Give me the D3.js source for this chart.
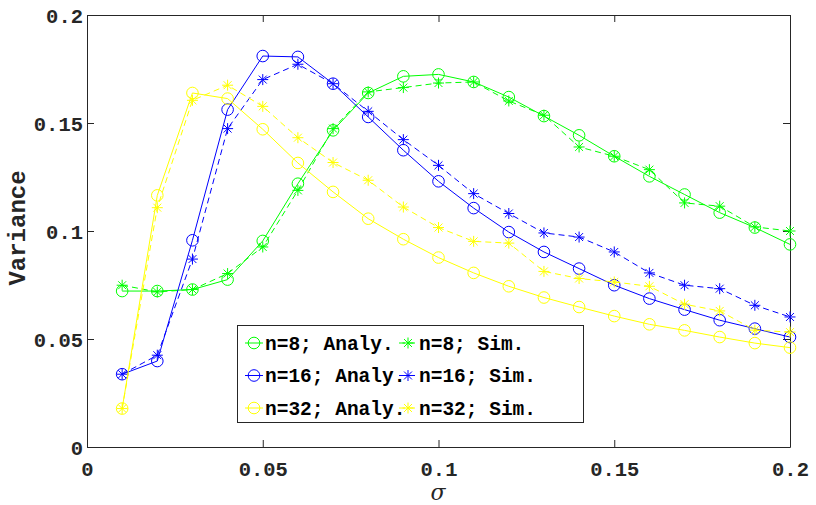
<!DOCTYPE html>
<html><head><meta charset="utf-8">
<script src="https://cdn.jsdelivr.net/npm/d3@7"></script>
<style>body{margin:0;background:#fff}</style>
</head><body>
<svg id="chart" width="816" height="505"></svg>
<script>
const sigma = [0.01,0.02,0.03,0.04,0.05,0.06,0.07,0.08,0.09,0.10,0.11,0.12,0.13,0.14,0.15,0.16,0.17,0.18,0.19,0.20];
const n8Analy  = [0.0722,0.0722,0.0729,0.0775,0.0954,0.1219,0.1466,0.1639,0.1716,0.1725,0.1690,0.1620,0.1532,0.1443,0.1346,0.1253,0.1169,0.1085,0.1016,0.0938];
const n8Sim    = [0.0749,0.0718,0.0729,0.0803,0.0926,0.1188,0.1474,0.1644,0.1664,0.1685,0.1690,0.1602,0.1536,0.1389,0.1346,0.1284,0.1130,0.1115,0.1019,0.1000];
const n16Analy = [0.0337,0.0398,0.0957,0.1562,0.1810,0.1806,0.1682,0.1528,0.1374,0.1230,0.1106,0.0995,0.0903,0.0826,0.0749,0.0687,0.0636,0.0587,0.0548,0.0509];
const n16Sim   = [0.0337,0.0425,0.0870,0.1474,0.1701,0.1772,0.1682,0.1554,0.1423,0.1304,0.1173,0.1081,0.0991,0.0972,0.0903,0.0806,0.0749,0.0733,0.0656,0.0602];
const n32Analy = [0.0178,0.1165,0.1639,0.1613,0.1471,0.1315,0.1181,0.1057,0.0962,0.0877,0.0806,0.0744,0.0692,0.0648,0.0606,0.0568,0.0540,0.0509,0.0481,0.0460];
const n32Sim   = [0.0178,0.1108,0.1605,0.1675,0.1577,0.1432,0.1317,0.1235,0.1111,0.1016,0.0952,0.0944,0.0813,0.0780,0.0764,0.0744,0.0661,0.0630,0.0541,0.0532];
const xTicks = [0,0.05,0.1,0.15,0.2];
const yTicks = [0,0.05,0.1,0.15,0.2];
const xTickLabels = ["0","0.05","0.1","0.15","0.2"];
const yTickLabels = ["0","0.05","0.1","0.15","0.2"];
const seriesNames = ["n=8; Analy.","n=8; Sim.","n=16; Analy.","n=16; Sim.","n=32; Analy.","n=32; Sim."];
const seriesColors = ["#00ff00","#00ff00","#0000ff","#0000ff","#ffff00","#ffff00"];
const seriesData = [n8Analy,n8Sim,n16Analy,n16Sim,n32Analy,n32Sim];
const seriesMarker = ["o","*","o","*","o","*"];

const L=87, T=15, W=703, H=432;
const svg = d3.select("#chart");
const x = d3.scaleLinear().domain([0,0.2]).range([L,L+W]);
const y = d3.scaleLinear().domain([0,0.2]).range([T+H,T]);
const axisColor="#262626";
const font="'Liberation Mono','Courier New',monospace";

// axes (box)
const g = svg.append("g");
const ax = g.append("g").attr("transform",`translate(0,${T+H})`)
  .call(d3.axisBottom(x).tickValues(xTicks).tickFormat((d,i)=>xTickLabels[i]).tickSizeInner(-7).tickSizeOuter(0).tickPadding(14));
const ay = g.append("g").attr("transform",`translate(${L},0)`)
  .call(d3.axisLeft(y).tickValues(yTicks).tickFormat((d,i)=>yTickLabels[i]).tickSizeInner(-7).tickSizeOuter(0).tickPadding(4));
const axT = g.append("g").attr("transform",`translate(0,${T})`)
  .call(d3.axisTop(x).tickValues(xTicks).tickFormat("").tickSizeInner(-7).tickSizeOuter(0));
const ayR = g.append("g").attr("transform",`translate(${L+W},0)`)
  .call(d3.axisRight(y).tickValues(yTicks).tickFormat("").tickSizeInner(-7).tickSizeOuter(0));
[ax,ay,axT,ayR].forEach(a=>{
  a.select(".domain").attr("stroke",axisColor).attr("stroke-width",1);
  a.selectAll(".tick line").attr("stroke",axisColor).attr("stroke-width",1);
  a.selectAll(".tick text").attr("fill",axisColor).style("font-family",font).style("font-weight","bold").style("font-size","20.5px");
});
ax.selectAll(".tick text").attr("dy","0.71em");
ay.selectAll(".tick text").attr("dy","0.35em");

// labels
svg.append("text").attr("transform",`translate(25,228) rotate(-90)`).attr("text-anchor","middle")
  .style("font-family",font).style("font-weight","bold").style("font-size","24px").attr("fill",axisColor).text("Variance");
svg.append("text").attr("x",438).attr("y",500).attr("text-anchor","middle")
  .style("font-family","'DejaVu Serif','Liberation Serif',serif").style("font-style","italic").style("font-size","22px").attr("fill",axisColor).text("σ");

function starPath(cx,cy,r){
  const d=r*0.72;
  return `M${cx-r},${cy}L${cx+r},${cy}M${cx},${cy-r}L${cx},${cy+r}M${cx-d},${cy-d}L${cx+d},${cy+d}M${cx-d},${cy+d}L${cx+d},${cy-d}`;
}
function drawMarker(sel,type,cx,cy,color){
  if(type==="o"){
    sel.append("circle").attr("cx",cx).attr("cy",cy).attr("r",5.8).attr("fill","none").attr("stroke",color).attr("stroke-width",1);
  } else {
    sel.append("path").attr("d",starPath(cx,cy,5.5)).attr("fill","none").attr("stroke",color).attr("stroke-width",1);
  }
}

const line = d3.line().x((d,i)=>x(sigma[i])).y(d=>y(d));
const plot = svg.append("g");
seriesData.forEach((data,k)=>{
  const gs = plot.append("g");
  gs.append("path").attr("d",line(data)).attr("fill","none").attr("stroke",seriesColors[k]).attr("stroke-width",1)
    .attr("stroke-dasharray",seriesMarker[k]==="*"?"6,4":null);
  data.forEach((v,i)=>drawMarker(gs,seriesMarker[k],x(sigma[i]),y(v),seriesColors[k]));
});

// legend
const lg = svg.append("g");
lg.append("rect").attr("x",237.5).attr("y",325.5).attr("width",346).attr("height",97).attr("fill","#fff").attr("stroke",axisColor).attr("stroke-width",1);
const rowY=[343,375.5,408];
const colMark=[254,408];
seriesNames.forEach((name,k)=>{
  const row=Math.floor(k/2), col=k%2;
  const cx=colMark[col], cy=rowY[row];
  lg.append("line").attr("x1",cx-9).attr("x2",cx+9).attr("y1",cy).attr("y2",cy).attr("stroke",seriesColors[k]).attr("stroke-width",1)
    .attr("stroke-dasharray",seriesMarker[k]==="*"?"6,4":null);
  drawMarker(lg,seriesMarker[k],cx,cy,seriesColors[k]);
});
seriesNames.forEach((name,k)=>{
  const row=Math.floor(k/2), col=k%2;
  lg.append("text").attr("x",colMark[col]+11).attr("y",rowY[row]).attr("dy","0.35em")
    .style("font-family",font).style("font-weight","bold").style("font-size","19.5px").attr("fill","#000").text(name);
});
</script>
</body></html>
